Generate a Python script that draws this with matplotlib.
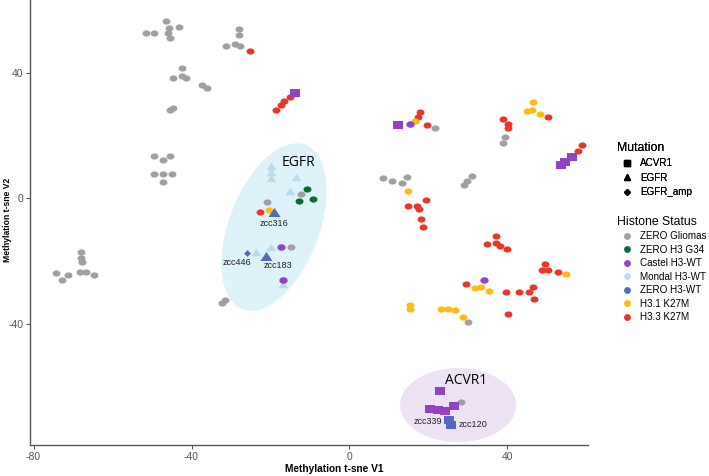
import matplotlib
matplotlib.use("Agg")
import matplotlib.pyplot as plt
from matplotlib.lines import Line2D
from matplotlib.markers import MarkerStyle
from matplotlib.transforms import Affine2D
import numpy as np

plt.rcParams['font.family'] = ['Liberation Sans', 'DejaVu Sans']
plt.rcParams['axes.unicode_minus'] = False

# ---- data ----
gliomas_x = [-51.5, -49.4, -46.5, -45.6, -46.0, -45.4, -43.2,
             -28.1, -28.1, -31.3, -28.9, -27.7,
             -42.5, -44.8, -42.5, -41.3, -37.3, -36.1,
             -45.4, -44.7,
             -49.4, -47.2, -45.4, -49.5, -47.2, -44.9, -47.2,
             -68.1, -68.0, -67.7, -74.3, -72.8, -71.3, -68.2, -66.6, -64.8,
             -32.3, -31.4,
             -20.9, -12.4, -14.8,
             21.7, 39.5, 38.9,
             8.6, 10.7, 13.4, 14.6,
             30.9, 29.7, 29.0,
             30.1, 28.2]
gliomas_y = [52.6, 52.6, 56.5, 54.4, 52.6, 51.0, 54.7,
             54.1, 51.9, 48.7, 49.3, 48.6,
             41.6, 38.3, 39.1, 38.5, 36.0, 35.3,
             28.2, 28.7,
             13.4, 12.3, 13.5, 7.8, 7.8, 7.8, 5.2,
             -17.0, -18.8, -20.1, -23.8, -25.9, -24.3, -23.5, -23.5, -24.5,
             -33.3, -32.4,
             -1.1, 1.4, -15.3,
             22.6, 19.7, 17.6,
             6.4, 5.7, 4.8, 6.8,
             7.3, 5.6, 4.3,
             -39.2, -64.8]

h33_x = [-25.1, -18.6, -17.4, -16.6, -15.1,
         17.3, 17.8, 19.7,
         38.8, 40.1, 40.2, 50.2, 58.8, 57.9,
         19.4, 14.9, 17.0, 17.7, 18.0, 18.5,
         37.0, 34.7, 37.1, 38.2, 39.8,
         49.5, 48.8, 50.3, 52.7,
         29.5, 39.6, 42.9, 45.4, 46.5, 46.6, 40.1,
         -22.6]
h33_y = [46.9, 28.3, 29.9, 31.0, 32.4,
         25.9, 27.5, 23.4,
         25.3, 23.7, 22.4, 26.1, 17.0, 15.2,
         -0.5, -2.3, -2.3, -3.4, -6.4, -9.0,
         -11.8, -14.4, -14.1, -15.2, -16.2,
         -20.9, -22.8, -22.8, -23.5,
         -27.1, -29.9, -29.8, -29.9, -28.3, -32.1, -36.8,
         -4.3]

h31_x = [16.5, 46.4, 44.9, 46.3, 48.3, 14.7,
         54.8, 31.8, 33.4, 35.4,
         15.3, 15.3, 23.1, 24.9, 26.6, 28.7,
         -20.3]
h31_y = [24.6, 30.7, 28.0, 28.2, 26.9, 2.4,
         -24.0, -28.4, -28.1, -29.4,
         -34.0, -35.2, -35.2, -35.3, -35.5, -37.6,
         -3.7]

castel_x = [15.2, 34.1, -17.3, -16.8]
castel_y = [23.7, -25.9, -15.3, -26.0]
castel_acvr1_x = [-13.9, 12.4, 53.5, 54.6, 56.3, 22.9, 20.4, 22.5, 24.3, 26.5]
castel_acvr1_y = [33.6, 23.4, 10.7, 11.7, 13.3, -61.3, -66.9, -67.4, -67.8, -66.0]

g34_x = [-10.8, -12.7, -9.2]
g34_y = [3.1, -0.8, -0.1]

mondal_egfr_x = [-19.9, -19.9, -19.9, -13.6, -15.1, -23.7, -19.9, -16.8]
mondal_egfr_y = [10.3, 8.5, 6.6, 6.9, 2.4, -16.9, -15.3, -27.2]

zero_egfr_x = [-19.1, -21.2]
zero_egfr_y = [-4.4, -18.3]
zero_amp_x = [-25.9]
zero_amp_y = [-17.5]
zero_acvr1_x = [25.2, 25.7]
zero_acvr1_y = [-70.5, -72.1]

sample_names = ['zcc316', 'zcc446', 'zcc183', 'zcc339', 'zcc120']
sample_x = [-19.1, -28.4, -18.1, 19.9, 31.2]
sample_y = [-8.0, -20.5, -21.5, -71.1, -72.1]

status_labels = ['ZERO Gliomas', 'ZERO H3 G34', 'Castel H3-WT', 'Mondal H3-WT',
                 'ZERO H3-WT', 'H3.1 K27M', 'H3.3 K27M']
status_colors = ['#A0A0A0', '#0B6B35', '#9343C1', '#B9DBF0',
                 '#5569C1', '#FDBB13', '#E8362B']
mutation_labels = ['ACVR1', 'EGFR', 'EGFR_amp']
mutation_markers = ['s', '^', 'D']

col = dict(zip(status_labels, status_colors))


def wide(m, k):
    # the reference picture is a little stretched sideways
    return MarkerStyle(m, transform=Affine2D().scale(k, 1.0))


fig = plt.figure(figsize=(7.09, 4.76), dpi=100)
ax = fig.add_axes([30 / 709, 31 / 476, 558 / 709, 445 / 476])
ax.set_xlim(-80.9, 60.4)
ax.set_ylim(-78.5, 63.2)

# pixel scale, used to draw ellipses that look tilted on screen
sx = 558 / (60.4 + 80.9)
sy = 445 / (63.2 + 78.5)


def screen_ellipse(cx, cy, a, b, ang, color):
    t = np.linspace(0, 2 * np.pi, 300)
    phi = np.deg2rad(ang)
    px = a * np.cos(t) * np.cos(phi) - b * np.sin(t) * np.sin(phi)
    py = a * np.cos(t) * np.sin(phi) + b * np.sin(t) * np.cos(phi)
    ax.fill(cx + px / sx, cy + py / sy, color=color, lw=0, zorder=0)


screen_ellipse(-19.1, -9.1, 88, 45, 69, '#DDF2F9')
screen_ellipse(27.5, -65.8, 58, 37, 0, '#EEE3F4')

circ = wide('o', 1.28)
ax.scatter(gliomas_x, gliomas_y, s=20, marker=circ, c=col['ZERO Gliomas'], lw=0, zorder=2)
ax.scatter(h33_x, h33_y, s=20, marker=circ, c=col['H3.3 K27M'], lw=0, zorder=2)
ax.scatter(h31_x, h31_y, s=20, marker=circ, c=col['H3.1 K27M'], lw=0, zorder=2)
ax.scatter(castel_x, castel_y, s=22, marker=circ, c=col['Castel H3-WT'], lw=0, zorder=3)
ax.scatter(g34_x, g34_y, s=20, marker=circ, c=col['ZERO H3 G34'], lw=0, zorder=2)
ax.scatter(mondal_egfr_x, mondal_egfr_y, s=28, marker=wide('^', 1.35),
           c=col['Mondal H3-WT'], lw=0, zorder=2)
ax.scatter(castel_acvr1_x, castel_acvr1_y, s=34, marker=wide('s', 1.15),
           c=col['Castel H3-WT'], lw=0, zorder=3)
ax.scatter(zero_egfr_x, zero_egfr_y, s=42, marker=wide('^', 1.35),
           c=col['ZERO H3-WT'], lw=0, zorder=4)
ax.scatter(zero_amp_x, zero_amp_y, s=12, marker='D', c=col['ZERO H3-WT'], lw=0, zorder=4)
ax.scatter(zero_acvr1_x, zero_acvr1_y, s=34, marker=wide('s', 1.15),
           c=col['ZERO H3-WT'], lw=0, zorder=4)

for n, x, y in zip(sample_names, sample_x, sample_y):
    ax.text(x, y, n, fontsize=6.6, ha='center', va='center', color='#222222', zorder=5)

ax.text(-12.8, 11.3, 'EGFR', fontsize=10, family='Open Sans', ha='center', va='center', zorder=5)
ax.text(29.5, -58.1, 'ACVR1', fontsize=10, family='Open Sans', ha='center', va='center', zorder=5)

ax.set_xticks([-80, -40, 0, 40])
ax.set_yticks([-40, 0, 40])
ax.tick_params(labelsize=7.5, labelcolor='#555555', color='#555555', length=3, width=0.8, pad=2)
ax.spines[['top', 'right']].set_visible(False)
ax.spines[['left', 'bottom']].set_color('#555555')
ax.spines[['left', 'bottom']].set_linewidth(1.0)

fig.text(334 / 709, 1 - 469 / 476, 'Methylation t-sne V1', fontsize=7.3, weight='bold',
         ha='center', va='center')
fig.text(8 / 709, 1 - 220 / 476, 'Methylation t-sne V2', fontsize=6.2, weight='bold',
         ha='center', va='center', rotation=90)

# legends
mut_handles = [Line2D([], [], ls='', marker=m, color='black', markersize=s)
               for m, s in zip(mutation_markers, [4.2, 4.6, 3.0])]
leg1 = fig.legend(mut_handles, mutation_labels, title='Mutation', loc='upper left',
                  bbox_to_anchor=(617 / 709, 1 - 142 / 476), frameon=False, fontsize=7.1,
                  title_fontsize=8.8, alignment='left', handlelength=2.0,
                  handletextpad=0.35, labelspacing=0.45, borderpad=0, borderaxespad=0)
stat_handles = [Line2D([], [], ls='', marker='o', color=c, markersize=3.9) for c in status_colors]
leg2 = fig.legend(stat_handles, status_labels, title='Histone Status', loc='upper left',
                  bbox_to_anchor=(617 / 709, 1 - 216 / 476), frameon=False, fontsize=7.1,
                  title_fontsize=8.8, alignment='left', handlelength=2.0,
                  handletextpad=0.35, labelspacing=0.35, borderpad=0, borderaxespad=0)
fig.add_artist(leg1)

fig.savefig('out.png', dpi=100)
